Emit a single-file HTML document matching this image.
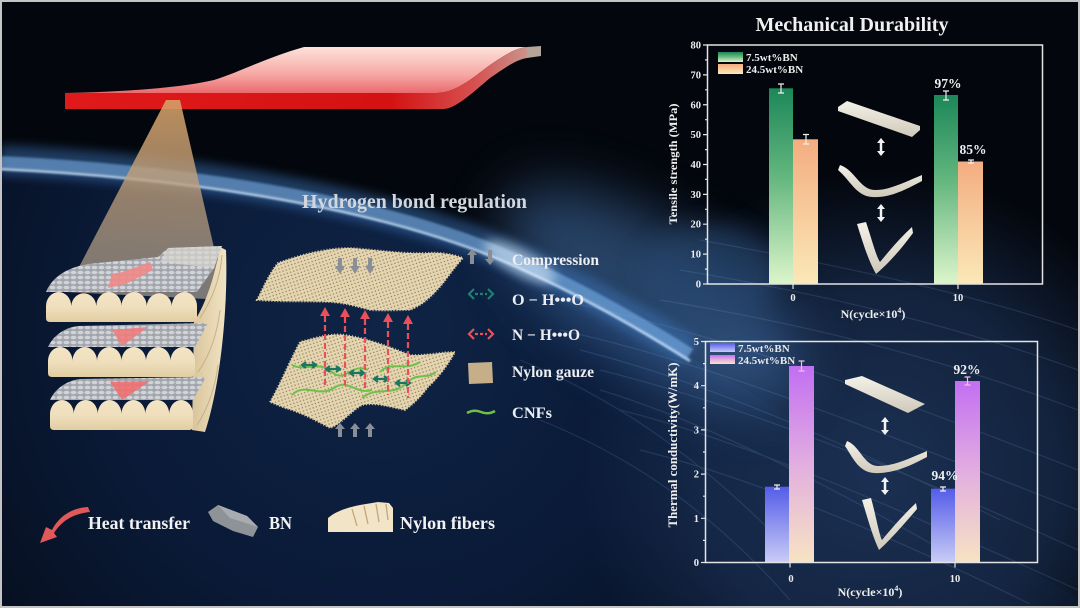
<!DOCTYPE html>
<html><head><meta charset="utf-8"><style>
html,body{margin:0;padding:0;background:#03060c;width:1080px;height:608px;overflow:hidden;}
svg{display:block;overflow:hidden;}
</style></head><body>
<svg width="1080" height="608" viewBox="0 0 1080 608" xmlns="http://www.w3.org/2000/svg" font-family="'Liberation Serif', serif" font-weight="bold">
<defs>
  <clipPath id="frame"><rect x="0" y="0" width="1080" height="608"/></clipPath>
  <radialGradient id="earth" cx="380" cy="330" r="560" gradientUnits="userSpaceOnUse">
    <stop offset="0" stop-color="#0f2446"/>
    <stop offset="0.5" stop-color="#0a1a37"/>
    <stop offset="1" stop-color="#050b17"/>
  </radialGradient>
  <radialGradient id="navyGlow" cx="880" cy="470" r="300" gradientUnits="userSpaceOnUse">
    <stop offset="0" stop-color="#1c3256" stop-opacity="0.95"/>
    <stop offset="0.6" stop-color="#1a2f52" stop-opacity="0.7"/>
    <stop offset="1" stop-color="#1a2f52" stop-opacity="0"/>
  </radialGradient>
  <filter id="b30" x="-50%" y="-50%" width="200%" height="200%"><feGaussianBlur stdDeviation="28"/></filter>
  <filter id="b14" x="-50%" y="-50%" width="200%" height="200%"><feGaussianBlur stdDeviation="12"/></filter>
  <filter id="b6" x="-20%" y="-50%" width="140%" height="200%"><feGaussianBlur stdDeviation="5"/></filter>
  <filter id="b1"><feGaussianBlur stdDeviation="1"/></filter>
  <linearGradient id="slabTop" x1="0" y1="47" x2="0" y2="93" gradientUnits="userSpaceOnUse">
    <stop offset="0" stop-color="#fde2da"/><stop offset="0.6" stop-color="#f6a8a4"/><stop offset="1" stop-color="#ea6a6e"/>
  </linearGradient>
  <linearGradient id="slabFront" x1="65" y1="0" x2="530" y2="0" gradientUnits="userSpaceOnUse">
    <stop offset="0" stop-color="#e01a1a"/><stop offset="0.7" stop-color="#d41212"/><stop offset="0.88" stop-color="#d65050"/><stop offset="1" stop-color="#c89890"/>
  </linearGradient>
  <linearGradient id="cone" x1="0" y1="100" x2="0" y2="300" gradientUnits="userSpaceOnUse">
    <stop offset="0" stop-color="#d6a268" stop-opacity="0.88"/><stop offset="0.5" stop-color="#c0a07c" stop-opacity="0.75"/><stop offset="1" stop-color="#a89e92" stop-opacity="0.7"/>
  </linearGradient>
  <linearGradient id="front" x1="0" y1="0" x2="0" y2="1">
    <stop offset="0" stop-color="#f3e4c4"/><stop offset="0.5" stop-color="#efdfbd"/><stop offset="1" stop-color="#e2cda2"/>
  </linearGradient>
  <linearGradient id="side" x1="0" y1="0" x2="1" y2="0">
    <stop offset="0" stop-color="#d9c59c"/><stop offset="1" stop-color="#f1e3c3"/>
  </linearGradient>
  <pattern id="bn" width="7" height="5" patternUnits="userSpaceOnUse">
    <rect width="7" height="5" fill="#a2a6ac"/>
    <ellipse cx="3.5" cy="2.5" rx="3" ry="1.8" fill="#d0d4d8"/>
  </pattern>
  <pattern id="mesh" width="3.4" height="3.4" patternUnits="userSpaceOnUse" patternTransform="rotate(-18)">
    <rect width="3.4" height="3.4" fill="#e6d6b0"/>
    <rect x="1.2" y="1.2" width="1.3" height="1.3" fill="#4a3c28" opacity="0.55"/>
  </pattern>
  <linearGradient id="gGreen" x1="0" y1="0" x2="0" y2="1">
    <stop offset="0" stop-color="#1c8758"/><stop offset="0.45" stop-color="#63b67e"/><stop offset="1" stop-color="#dcf5cb"/>
  </linearGradient>
  <linearGradient id="gOrange" x1="0" y1="0" x2="0" y2="1">
    <stop offset="0" stop-color="#f3ad80"/><stop offset="1" stop-color="#fbe8b8"/>
  </linearGradient>
  <linearGradient id="gBlue" x1="0" y1="0" x2="0" y2="1">
    <stop offset="0" stop-color="#545ce8"/><stop offset="1" stop-color="#c9ccf6"/>
  </linearGradient>
  <linearGradient id="gPurple" x1="0" y1="0" x2="0" y2="1">
    <stop offset="0" stop-color="#c26ef2"/><stop offset="0.5" stop-color="#e2aee0"/><stop offset="1" stop-color="#f7e3c2"/>
  </linearGradient>
  <linearGradient id="strip" x1="0" y1="0" x2="0" y2="1">
    <stop offset="0" stop-color="#f4f1e8"/><stop offset="1" stop-color="#cfc9ba"/>
  </linearGradient>
</defs>

<g clip-path="url(#frame)">
<!-- background -->
<rect width="1080" height="608" fill="#03060c"/>
<path d="M0,168 C150,175 380,200 530,272 C600,305 680,350 760,398 C860,460 980,540 1080,600 L1080,608 L0,608 Z" fill="url(#earth)"/>
<rect x="580" y="170" width="500" height="438" fill="url(#navyGlow)"/>
<ellipse cx="650" cy="295" rx="170" ry="70" transform="rotate(32 650 295)" fill="#4573ad" opacity="0.55" filter="url(#b30)"/>
<ellipse cx="710" cy="275" rx="70" ry="50" fill="#264770" opacity="0.6" filter="url(#b14)"/>
<!-- streaks -->
<g stroke="#8fb8e8" stroke-width="1.2" fill="none" opacity="0.14">
  <path d="M560,300 C700,330 850,380 1078,470"/>
  <path d="M560,330 C700,360 850,420 1078,510"/>
  <path d="M600,370 C720,400 860,450 1078,550"/>
  <path d="M620,410 C740,440 880,500 1078,590"/>
  <path d="M640,450 C760,480 900,540 1030,604"/>
  <path d="M660,300 C780,320 920,350 1078,410"/>
  <path d="M680,270 C800,290 940,320 1078,370"/>
  <path d="M700,240 C820,262 960,290 1078,330"/>
  <path d="M520,360 C620,400 700,460 780,540"/>
  <path d="M540,420 C640,460 720,520 790,600"/>
  <path d="M580,350 C700,380 840,440 1000,520"/>
  <path d="M600,390 C700,420 820,480 960,560"/>
</g>
<!-- horizon glow -->
<path d="M0,160 C150,167 380,192 530,264 C580,287 630,314 690,352" fill="none" stroke="#3f7cc4" stroke-width="30" opacity="0.45" filter="url(#b6)"/>
<path d="M0,162 C150,169 380,194 530,266 C580,289 630,316 690,354" fill="none" stroke="#7fb6ee" stroke-width="12" opacity="0.55" filter="url(#b1)"/>
<path d="M0,169 C150,176 380,201 530,273 C580,296 630,323 690,361" fill="none" stroke="#cfe8ff" stroke-width="2.5" opacity="0.9" filter="url(#b1)"/>
<ellipse cx="520" cy="262" rx="40" ry="12" transform="rotate(28 520 262)" fill="#e6f4ff" opacity="0.55" filter="url(#b6)"/>
</g>

<!-- red slab -->
<path d="M65,93 C120,92 180,88 214,80 C240,72 265,58 304,47 L541,47 L527,47 C515,48 505,55 490,65 C470,80 455,93 436,93 Z" fill="url(#slabTop)"/>
<path d="M65,93 L436,93 C455,93 470,80 490,65 C505,55 515,48 527,47 L527,58 C515,60 505,68 490,78 C470,95 455,109 443,109 L65,109 Z" fill="url(#slabFront)"/>
<path d="M527,47 L541,46 L541,56 L527,58 Z" fill="#b5a49a"/>

<!-- cone -->
<polygon points="166,100 180,100 226,300 66,292" fill="url(#cone)"/>

<!-- left stack -->
<path d="M194,322 C205,305 214,280 220,247 L226,250 C228,300 222,380 205,432 L192,430 Z" fill="url(#side)"/>
<g fill="none" stroke="#bca77e" stroke-width="1" opacity="0.8">
  <path d="M200,318 C212,300 220,280 222,255"/>
  <path d="M198,372 C210,355 217,335 220,310"/>
  <path d="M197,425 C208,408 215,388 218,365"/>
</g>
<!-- layer 1 -->
<path d="M46,292 C52,278 65,268 88,264 L158,257 L168,248 L222,246 L214,268 L197,292 Z" fill="url(#bn)"/>
<path d="M168,248 L222,246 L214,268 L160,262 Z" fill="#d8d6cf" opacity="0.7"/>
<path d="M46,322 L46,306 A12.6,14 0 0 1 71.2,306 A12.6,14 0 0 1 96.3,306 A12.6,14 0 0 1 121.5,306 A12.6,14 0 0 1 146.7,306 A12.6,14 0 0 1 171.8,306 A12.6,14 0 0 1 197,306 L197,318 Q197,322 193,322 L50,322 Q46,322 46,318 Z" fill="url(#front)"/>
<polygon points="150,262 153,270 126,284 108,288 112,274 122,272" fill="#f08a88" opacity="0.9"/>
<!-- layer 2 -->
<path d="M48,347 C52,338 62,328 78,326 L208,323 L195,347 Z" fill="url(#bn)"/>
<path d="M48,377 L48,361 A12.25,14 0 0 1 72.5,361 A12.25,14 0 0 1 97,361 A12.25,14 0 0 1 121.5,361 A12.25,14 0 0 1 146,361 A12.25,14 0 0 1 170.5,361 A12.25,14 0 0 1 195,361 L195,373 Q195,377 191,377 L52,377 Q48,377 48,373 Z" fill="url(#front)"/>
<polygon points="112,330 148,327 122,346" fill="#f07c7c" opacity="0.9"/>
<!-- layer 3 -->
<path d="M50,400 C54,391 64,381 80,379 L206,377 L193,400 Z" fill="url(#bn)"/>
<path d="M50,430 L50,414 A11.9,14 0 0 1 73.8,414 A11.9,14 0 0 1 97.7,414 A11.9,14 0 0 1 121.5,414 A11.9,14 0 0 1 145.3,414 A11.9,14 0 0 1 169.2,414 A11.9,14 0 0 1 193,414 L193,426 Q193,430 189,430 L54,430 Q50,430 50,426 Z" fill="url(#front)"/>
<polygon points="110,382 150,381 122,400" fill="#f07070" opacity="0.9"/>

<!-- Hydrogen bond regulation -->
<text x="302" y="208" font-size="19.5" fill="#d2d6de" textLength="225" lengthAdjust="spacingAndGlyphs">Hydrogen bond regulation</text>

<!-- upper gauze -->
<path d="M257,300 C262,290 270,272 278,263 C300,255 325,248 350,248 C380,250 400,254 427,253 C440,252 452,254 463,258 C452,270 445,282 437,290 C428,300 420,306 410,310 C395,310 385,311 370,310 C355,306 345,303 330,302 C305,301 280,302 257,300 Z" fill="url(#mesh)" stroke="#e0cea6" stroke-width="2" stroke-dasharray="1 2"/>
<g fill="#8a8e96">
  <polygon points="338,258 342,258 342,266 345,266 340,274 335,266 338,266"/>
  <polygon points="353,258 357,258 357,266 360,266 355,274 350,266 353,266"/>
  <polygon points="368,258 372,258 372,266 375,266 370,274 365,266 368,266"/>
</g>
<!-- lower gauze -->
<path d="M270,402 C280,385 290,360 300,342 C315,338 330,333 345,335 C365,338 385,345 410,355 C425,356 440,352 455,352 C448,365 438,378 428,387 C420,398 412,405 405,410 C390,407 375,402 362,405 C350,412 340,425 330,428 C315,420 300,412 285,408 Z" fill="url(#mesh)" stroke="#e0cea6" stroke-width="2" stroke-dasharray="1 2"/>
<g fill="none" stroke="#6fc048" stroke-width="2">
  <path d="M292,365 C305,372 318,360 332,372 C345,384 352,362 368,370"/>
  <path d="M292,395 C305,382 318,398 334,388 C348,378 356,395 372,390"/>
  <path d="M362,398 C378,385 392,398 408,382 C418,372 426,380 436,372"/>
  <path d="M380,372 C392,360 404,372 420,362"/>
</g>
<g stroke="#1c7560" stroke-width="2.2" fill="none">
  <path d="M306,362 l-4,3 l4,3 M302,365 h14 M312,362 l4,3 l-4,3"/>
  <path d="M330,366 l-4,3 l4,3 M326,369 h14 M336,366 l4,3 l-4,3"/>
  <path d="M354,370 l-4,3 l4,3 M350,373 h14 M360,370 l4,3 l-4,3"/>
  <path d="M378,376 l-4,3 l4,3 M374,379 h14 M384,376 l4,3 l-4,3"/>
  <path d="M400,380 l-4,3 l4,3 M396,383 h14 M406,380 l4,3 l-4,3"/>
</g>
<!-- red dashed arrows -->
<g stroke="#e8505a" stroke-width="2.2" stroke-dasharray="6 3" fill="none">
  <line x1="325" y1="316" x2="325" y2="385"/>
  <line x1="345" y1="317" x2="345" y2="385"/>
  <line x1="365" y1="319" x2="365" y2="390"/>
  <line x1="388" y1="322" x2="388" y2="395"/>
  <line x1="408" y1="324" x2="408" y2="398"/>
</g>
<g fill="#e8505a">
  <polygon points="325,307 330,316 320,316"/>
  <polygon points="345,308 350,317 340,317"/>
  <polygon points="365,310 370,319 360,319"/>
  <polygon points="388,313 393,322 383,322"/>
  <polygon points="408,315 413,324 403,324"/>
</g>
<g fill="#8a8e96">
  <polygon points="340,423 345,429 342,429 342,437 338,437 338,429 335,429"/>
  <polygon points="355,423 360,429 357,429 357,437 353,437 353,429 350,429"/>
  <polygon points="370,423 375,429 372,429 372,437 368,437 368,429 365,429"/>
</g>

<!-- middle legend -->
<g fill="#8a8d93">
  <polygon points="472,249 477,255 474,255 474,264 470,264 470,255 467,255"/>
  <polygon points="488,250 492,250 492,259 495,259 490,265 485,259 488,259"/>
</g>
<g stroke="#1f8070" stroke-width="2.2" fill="none">
  <path d="M474,289 l-5,5 l5,5 M488,289 l5,5 l-5,5"/>
  <path d="M475,294 h12" stroke-dasharray="3 2"/>
</g>
<g stroke="#e8505a" stroke-width="2.2" fill="none">
  <path d="M474,329 l-5,5 l5,5 M488,329 l5,5 l-5,5"/>
  <path d="M475,334 h12" stroke-dasharray="3 2"/>
</g>
<path d="M468,363 L492,362 L493,383 L469,384 Z" fill="#c5ae88"/>
<path d="M467,413 Q474,409 481,412 Q488,415 495,411" stroke="#6fc048" stroke-width="2.5" fill="none"/>
<g font-size="15.5" fill="#eceef2">
  <text x="512" y="265" textLength="87" lengthAdjust="spacingAndGlyphs">Compression</text>
  <text x="512" y="305" textLength="72" lengthAdjust="spacingAndGlyphs">O − H•••O</text>
  <text x="512" y="340" textLength="68" lengthAdjust="spacingAndGlyphs">N − H•••O</text>
  <text x="512" y="377" textLength="82" lengthAdjust="spacingAndGlyphs">Nylon gauze</text>
  <text x="512" y="418" textLength="40" lengthAdjust="spacingAndGlyphs">CNFs</text>
</g>

<!-- bottom legend -->
<path d="M88,507 C70,508 58,518 52,530 L46,527 L40,543 L57,537 L54,533 C62,521 72,514 90,512 Z" fill="#e05858"/>
<polygon points="208,512 218,505 247,516 258,527 253,537 233,531 213,521" fill="#8e9398"/>
<polygon points="218,505 247,516 258,527 230,518" fill="#a8acb0"/>
<path d="M328,532 L328,518 C335,512 345,508 360,505 L378,502 L389,503 L393,508 L393,532 Z" fill="#f2e4c6"/>
<g stroke="#c4a57a" stroke-width="1.3" fill="none">
  <path d="M352,509 L357,526"/><path d="M364,506 L368,524"/><path d="M376,504 L379,522"/><path d="M386,504 L388,520"/>
</g>
<g font-size="17.5" fill="#f2f2f2">
  <text x="88" y="529" textLength="102" lengthAdjust="spacingAndGlyphs">Heat transfer</text>
  <text x="269" y="529" textLength="23" lengthAdjust="spacingAndGlyphs">BN</text>
  <text x="400" y="529" textLength="95" lengthAdjust="spacingAndGlyphs">Nylon fibers</text>
</g>

<!-- ============ TOP CHART ============ -->
<text x="852" y="31" font-size="19.5" fill="#f0f0f0" text-anchor="middle" textLength="193" lengthAdjust="spacingAndGlyphs">Mechanical Durability</text>
<rect x="769" y="88.3" width="24" height="195.7" fill="url(#gGreen)"/>
<rect x="793" y="139.3" width="25" height="144.7" fill="url(#gOrange)"/>
<rect x="934" y="95" width="24" height="189" fill="url(#gGreen)"/>
<rect x="958" y="161.5" width="25" height="122.5" fill="url(#gOrange)"/>
<g stroke="#f0f0f0" stroke-width="1.2">
  <path d="M781,84 V93 M778,84 H784 M778,93 H784"/>
  <path d="M806,134.5 V144 M803,134.5 H809 M803,144 H809"/>
  <path d="M946,91 V100 M943,91 H949 M943,100 H949"/>
  <path d="M971,160 V163 M968,160 H974 M968,163 H974"/>
</g>
<!-- strips top -->
<polygon points="838,107 847,101 920,126 920,130 912,137 838,111" fill="url(#strip)"/>
<path d="M840,165 C855,170 860,190 875,190 C890,190 905,182 922,175 L922,181 C905,190 890,198 872,197 C856,196 850,180 838,170 Z" fill="url(#strip)"/>
<path d="M857,224 L866,222 C872,240 876,256 880,262 C890,250 900,238 912,227 L913,233 C902,248 890,262 876,274 C868,260 862,240 857,224 Z" fill="url(#strip)"/>
<g stroke="#f2f2f2" stroke-width="2.5">
  <line x1="881" y1="142" x2="881" y2="152"/>
  <line x1="881" y1="208" x2="881" y2="218"/>
</g>
<g fill="#f2f2f2">
  <polygon points="881,138 885,143 877,143"/><polygon points="881,156 885,151 877,151"/>
  <polygon points="881,204 885,209 877,209"/><polygon points="881,222 885,217 877,217"/>
</g>
<rect x="707.5" y="45" width="335" height="239" fill="none" stroke="#e4e4e4" stroke-width="1.5"/>
<g stroke="#e4e4e4" stroke-width="1.2">
  <path d="M703,284 H707.5 M703,254.1 H707.5 M703,224.2 H707.5 M703,194.4 H707.5 M703,164.5 H707.5 M703,134.6 H707.5 M703,104.75 H707.5 M703,74.9 H707.5 M703,45 H707.5"/>
  <path d="M705,269.1 H707.5 M705,239.2 H707.5 M705,209.3 H707.5 M705,179.4 H707.5 M705,149.6 H707.5 M705,119.7 H707.5 M705,89.8 H707.5 M705,59.9 H707.5"/>
  <path d="M793,284 V289 M958,284 V289"/>
</g>
<g font-size="10.5" fill="#eeeeee" text-anchor="end">
  <text x="701" y="287.5">0</text><text x="701" y="257.6">10</text><text x="701" y="227.7">20</text>
  <text x="701" y="197.9">30</text><text x="701" y="168">40</text><text x="701" y="138.1">50</text>
  <text x="701" y="108.25">60</text><text x="701" y="78.4">70</text><text x="701" y="48.5">80</text>
</g>
<g font-size="10.5" fill="#eeeeee" text-anchor="middle">
  <text x="793" y="301">0</text><text x="958" y="301">10</text>
</g>
<text x="873" y="318" font-size="12" fill="#eeeeee" text-anchor="middle">N(cycle×10<tspan font-size="8" dy="-5">4</tspan><tspan dy="5">)</tspan></text>
<text transform="translate(677,164) rotate(-90)" font-size="12" fill="#eeeeee" text-anchor="middle" textLength="121" lengthAdjust="spacingAndGlyphs">Tensile strength (MPa)</text>
<rect x="718" y="52" width="25" height="10" fill="url(#gGreen)"/>
<rect x="718" y="64" width="25" height="10" fill="url(#gOrange)"/>
<g font-size="11" fill="#eeeeee">
  <text x="746" y="61">7.5wt%BN</text>
  <text x="746" y="73">24.5wt%BN</text>
</g>
<g font-size="13.5" fill="#f0f0f0" text-anchor="middle">
  <text x="948" y="88">97%</text>
  <text x="973" y="154">85%</text>
</g>

<!-- ============ BOTTOM CHART ============ -->
<rect x="765" y="486.7" width="24" height="75.8" fill="url(#gBlue)"/>
<rect x="789" y="366" width="25" height="196.5" fill="url(#gPurple)"/>
<rect x="931" y="488.7" width="24" height="73.8" fill="url(#gBlue)"/>
<rect x="955" y="381" width="25" height="181.5" fill="url(#gPurple)"/>
<g stroke="#f0f0f0" stroke-width="1.2">
  <path d="M777,485 V489 M774,485 H780 M774,489 H780"/>
  <path d="M943,487 V491 M940,487 H946 M940,491 H946"/>
</g>
<g stroke="#f4c0e0" stroke-width="1.2">
  <path d="M801.5,361 V371 M798.5,361 H804.5 M798.5,371 H804.5"/>
  <path d="M967.5,377 V385 M964.5,377 H970.5 M964.5,385 H970.5"/>
</g>
<!-- strips bottom -->
<polygon points="845,380 862,376 925,404 908,413 845,384" fill="url(#strip)"/>
<path d="M847,441 C860,446 864,466 878,466 C895,466 910,458 927,451 L927,457 C910,466 893,474 874,473 C858,472 852,456 845,446 Z" fill="url(#strip)"/>
<path d="M862,500 L871,498 C876,516 879,534 882,540 C892,528 904,514 916,503 L917,509 C905,523 893,537 879,550 C872,535 867,516 862,500 Z" fill="url(#strip)"/>
<g stroke="#f2f2f2" stroke-width="2.5">
  <line x1="885" y1="421" x2="885" y2="431"/>
  <line x1="885" y1="481" x2="885" y2="491"/>
</g>
<g fill="#f2f2f2">
  <polygon points="885,417 889,422 881,422"/><polygon points="885,435 889,430 881,430"/>
  <polygon points="885,477 889,482 881,482"/><polygon points="885,495 889,490 881,490"/>
</g>
<rect x="705.5" y="341.5" width="332" height="221" fill="none" stroke="#e4e4e4" stroke-width="1.5"/>
<g stroke="#e4e4e4" stroke-width="1.2">
  <path d="M701,562.5 H705.5 M701,518.3 H705.5 M701,474.1 H705.5 M701,429.9 H705.5 M701,385.7 H705.5 M701,341.5 H705.5"/>
  <path d="M703,540.4 H705.5 M703,496.2 H705.5 M703,452 H705.5 M703,407.8 H705.5 M703,363.6 H705.5"/>
  <path d="M790,562.5 V567.5 M955,562.5 V567.5"/>
</g>
<g font-size="10.5" fill="#eeeeee" text-anchor="end">
  <text x="699" y="566">0</text><text x="699" y="521.8">1</text><text x="699" y="477.6">2</text>
  <text x="699" y="433.4">3</text><text x="699" y="389.2">4</text><text x="699" y="345">5</text>
</g>
<g font-size="10.5" fill="#eeeeee" text-anchor="middle">
  <text x="791" y="582">0</text><text x="955" y="582">10</text>
</g>
<text x="870" y="596" font-size="12" fill="#eeeeee" text-anchor="middle">N(cycle×10<tspan font-size="8" dy="-5">4</tspan><tspan dy="5">)</tspan></text>
<text transform="translate(677,445) rotate(-90)" font-size="12.5" fill="#eeeeee" text-anchor="middle" textLength="165" lengthAdjust="spacingAndGlyphs">Thermal conductivity(W/mK)</text>
<rect x="710" y="343" width="25" height="9" fill="url(#gBlue)"/>
<rect x="710" y="355" width="25" height="9" fill="url(#gPurple)"/>
<g font-size="11" fill="#e8e8ec">
  <text x="738" y="352">7.5wt%BN</text>
  <text x="738" y="364">24.5wt%BN</text>
</g>
<g font-size="13.5" fill="#f0f0f0" text-anchor="middle">
  <text x="967" y="374">92%</text>
  <text x="945" y="480">94%</text>
</g>

<!-- outer border -->
<rect x="1" y="1" width="1078" height="606" fill="none" stroke="#c4c4c4" stroke-width="2"/>
</svg>
</body></html>
